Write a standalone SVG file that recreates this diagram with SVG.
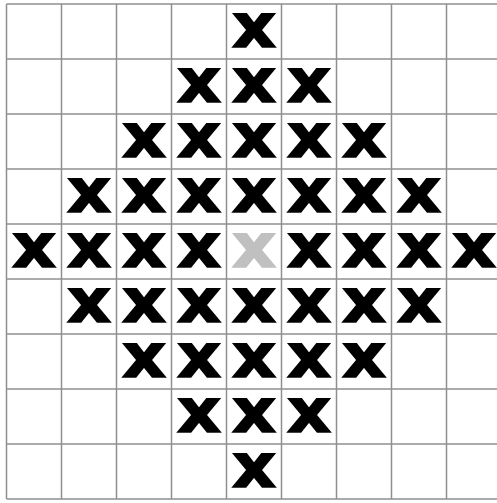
<svg xmlns="http://www.w3.org/2000/svg" width="497" height="503" viewBox="0 0 497 503">
<style>
.grid line{stroke:#8f8f8f;stroke-width:1.5}
.m{font-family:"DejaVu Sans",sans-serif;font-weight:bold;font-size:60px;text-anchor:middle;fill:#000;stroke:#000;stroke-width:1.6;stroke-linejoin:miter}
.g{fill:#c0c0c0;stroke:#c0c0c0}
</style>
<rect width="497" height="503" fill="#fff"/>
<g class="grid" id="grid">
<line x1="6.5" y1="4" x2="6.5" y2="499"/>
<line x1="61.5" y1="4" x2="61.5" y2="499"/>
<line x1="116.5" y1="4" x2="116.5" y2="499"/>
<line x1="171.5" y1="4" x2="171.5" y2="499"/>
<line x1="226.5" y1="4" x2="226.5" y2="499"/>
<line x1="281.5" y1="4" x2="281.5" y2="499"/>
<line x1="336.5" y1="4" x2="336.5" y2="499"/>
<line x1="391.5" y1="4" x2="391.5" y2="499"/>
<line x1="446.5" y1="4" x2="446.5" y2="499"/>
<line x1="6.5" y1="4" x2="497" y2="4"/>
<line x1="6.5" y1="59" x2="497" y2="59"/>
<line x1="6.5" y1="114" x2="497" y2="114"/>
<line x1="6.5" y1="169" x2="497" y2="169"/>
<line x1="6.5" y1="224" x2="497" y2="224"/>
<line x1="6.5" y1="279" x2="497" y2="279"/>
<line x1="6.5" y1="334" x2="497" y2="334"/>
<line x1="6.5" y1="389" x2="497" y2="389"/>
<line x1="6.5" y1="444" x2="497" y2="444"/>
<line x1="6.5" y1="499" x2="497" y2="499"/>
</g>
<g id="marks">
<g id="r0c4" transform="translate(254,46.5) scale(1.14,1)"><text class="m">x</text></g>
<g id="r1c3" transform="translate(199,101.5) scale(1.14,1)"><text class="m">x</text></g>
<g id="r1c4" transform="translate(254,101.5) scale(1.14,1)"><text class="m">x</text></g>
<g id="r1c5" transform="translate(309,101.5) scale(1.14,1)"><text class="m">x</text></g>
<g id="r2c2" transform="translate(144,156.5) scale(1.14,1)"><text class="m">x</text></g>
<g id="r2c3" transform="translate(199,156.5) scale(1.14,1)"><text class="m">x</text></g>
<g id="r2c4" transform="translate(254,156.5) scale(1.14,1)"><text class="m">x</text></g>
<g id="r2c5" transform="translate(309,156.5) scale(1.14,1)"><text class="m">x</text></g>
<g id="r2c6" transform="translate(364,156.5) scale(1.14,1)"><text class="m">x</text></g>
<g id="r3c1" transform="translate(89,211.5) scale(1.14,1)"><text class="m">x</text></g>
<g id="r3c2" transform="translate(144,211.5) scale(1.14,1)"><text class="m">x</text></g>
<g id="r3c3" transform="translate(199,211.5) scale(1.14,1)"><text class="m">x</text></g>
<g id="r3c4" transform="translate(254,211.5) scale(1.14,1)"><text class="m">x</text></g>
<g id="r3c5" transform="translate(309,211.5) scale(1.14,1)"><text class="m">x</text></g>
<g id="r3c6" transform="translate(364,211.5) scale(1.14,1)"><text class="m">x</text></g>
<g id="r3c7" transform="translate(419,211.5) scale(1.14,1)"><text class="m">x</text></g>
<g id="r4c0" transform="translate(34,266.5) scale(1.14,1)"><text class="m">x</text></g>
<g id="r4c1" transform="translate(89,266.5) scale(1.14,1)"><text class="m">x</text></g>
<g id="r4c2" transform="translate(144,266.5) scale(1.14,1)"><text class="m">x</text></g>
<g id="r4c3" transform="translate(199,266.5) scale(1.14,1)"><text class="m">x</text></g>
<g id="r4c4" transform="translate(254,266.5) scale(1.14,1)"><text class="m g">x</text></g>
<g id="r4c5" transform="translate(309,266.5) scale(1.14,1)"><text class="m">x</text></g>
<g id="r4c6" transform="translate(364,266.5) scale(1.14,1)"><text class="m">x</text></g>
<g id="r4c7" transform="translate(419,266.5) scale(1.14,1)"><text class="m">x</text></g>
<g id="r4c8" transform="translate(474,266.5) scale(1.14,1)"><text class="m">x</text></g>
<g id="r5c1" transform="translate(89,321.5) scale(1.14,1)"><text class="m">x</text></g>
<g id="r5c2" transform="translate(144,321.5) scale(1.14,1)"><text class="m">x</text></g>
<g id="r5c3" transform="translate(199,321.5) scale(1.14,1)"><text class="m">x</text></g>
<g id="r5c4" transform="translate(254,321.5) scale(1.14,1)"><text class="m">x</text></g>
<g id="r5c5" transform="translate(309,321.5) scale(1.14,1)"><text class="m">x</text></g>
<g id="r5c6" transform="translate(364,321.5) scale(1.14,1)"><text class="m">x</text></g>
<g id="r5c7" transform="translate(419,321.5) scale(1.14,1)"><text class="m">x</text></g>
<g id="r6c2" transform="translate(144,376.5) scale(1.14,1)"><text class="m">x</text></g>
<g id="r6c3" transform="translate(199,376.5) scale(1.14,1)"><text class="m">x</text></g>
<g id="r6c4" transform="translate(254,376.5) scale(1.14,1)"><text class="m">x</text></g>
<g id="r6c5" transform="translate(309,376.5) scale(1.14,1)"><text class="m">x</text></g>
<g id="r6c6" transform="translate(364,376.5) scale(1.14,1)"><text class="m">x</text></g>
<g id="r7c3" transform="translate(199,431.5) scale(1.14,1)"><text class="m">x</text></g>
<g id="r7c4" transform="translate(254,431.5) scale(1.14,1)"><text class="m">x</text></g>
<g id="r7c5" transform="translate(309,431.5) scale(1.14,1)"><text class="m">x</text></g>
<g id="r8c4" transform="translate(254,486.5) scale(1.14,1)"><text class="m">x</text></g>
</g>
</svg>
